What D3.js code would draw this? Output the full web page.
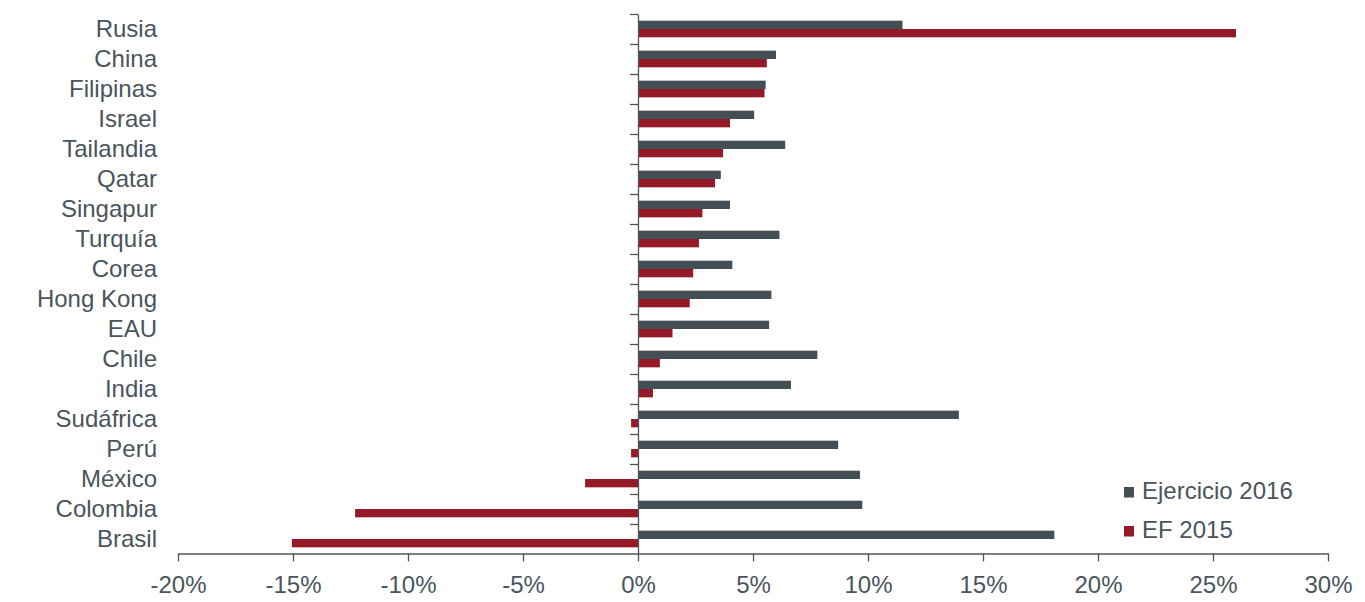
<!DOCTYPE html>
<html lang="es">
  <head>
    <meta charset="UTF-8" />
    <title>Ejercicio 2016 vs EF 2015</title>
    <script src="https://cdnjs.cloudflare.com/ajax/libs/d3/7.8.5/d3.min.js"></script>
    <style>
      body {
        margin: 0;
        background: #fff;
      }
      text {
        font-family: "Liberation Sans", Arial, sans-serif;
        fill: #4a545c;
      }
    </style>
  </head>
  <body>
    <div id="chart"></div>
    <script>
      // Data (percent)
      const countries = [
        "Rusia", "China", "Filipinas", "Israel", "Tailandia", "Qatar",
        "Singapur", "Turquía", "Corea", "Hong Kong", "EAU", "Chile",
        "India", "Sudáfrica", "Perú", "México", "Colombia", "Brasil",
      ];
      const ejercicio2016 = [
        11.5, 6.0, 5.55, 5.05, 6.4, 3.6, 4.0, 6.15, 4.1, 5.8, 5.7, 7.8,
        6.65, 13.95, 8.7, 9.65, 9.75, 18.1,
      ];
      const ef2015 = [
        26.0, 5.6, 5.5, 4.0, 3.7, 3.35, 2.8, 2.65, 2.4, 2.25, 1.5, 0.95,
        0.65, -0.3, -0.3, -2.3, -12.3, -15.05,
      ];
      const seriesNames = ["Ejercicio 2016", "EF 2015"];
      const xTicks = [-20, -15, -10, -5, 0, 5, 10, 15, 20, 25, 30];

      const width = 1365;
      const height = 602;
      const colors = ["#434e55", "#951a28"];
      const axisColor = "#4d565e";

      const rows = countries.map((c, i) => ({
        name: c,
        values: [ejercicio2016[i], ef2015[i]],
      }));

      const svg = d3
        .select("#chart")
        .append("svg")
        .attr("width", width)
        .attr("height", height);

      const x = d3.scaleLinear().domain([-20, 30]).range([178, 1328]);
      const y = d3.scaleBand().domain(countries).range([14, 554]);
      const y1 = d3
        .scaleBand()
        .domain(seriesNames)
        .range([0, y.bandwidth()])
        .paddingInner(0)
        .paddingOuter(0.8);

      // Bars
      const groups = svg
        .selectAll("g.row")
        .data(rows)
        .join("g")
        .attr("class", "row")
        .attr("transform", (d) => `translate(0,${y(d.name)})`);

      groups
        .selectAll("rect")
        .data((d) => d.values.map((v, i) => ({ key: seriesNames[i], v, i })))
        .join("rect")
        .attr("x", (d) => x(Math.min(0, d.v)))
        .attr("width", (d) => Math.abs(x(d.v) - x(0)))
        .attr("y", (d) => y1(d.key))
        .attr("height", y1.bandwidth())
        .attr("fill", (d) => colors[d.i]);

      // Vertical axis at zero with ticks at category boundaries
      const yIdx = d3.scaleLinear().domain([0, countries.length]).range([14, 554]);
      const yAxis = svg
        .append("g")
        .attr("transform", `translate(${x(0)},0)`)
        .call(
          d3
            .axisLeft(yIdx)
            .tickValues(d3.range(0, countries.length))
            .tickSize(8)
            .tickSizeOuter(0)
            .tickFormat("")
        );
      yAxis.selectAll("path, line").attr("stroke", axisColor).attr("stroke-width", 1.3);

      // Category labels
      svg
        .selectAll("text.cat")
        .data(countries)
        .join("text")
        .attr("class", "cat")
        .attr("x", 157)
        .attr("y", (d) => y(d) + y.bandwidth() / 2)
        .attr("dy", "0.35em")
        .attr("text-anchor", "end")
        .attr("font-size", "24px")
        .text((d) => d);

      // Bottom axis
      const xAxis = svg
        .append("g")
        .attr("transform", "translate(0,553.5)")
        .call(
          d3
            .axisBottom(x)
            .tickValues(xTicks)
            .tickSize(8)
            .tickSizeOuter(0)
            .tickPadding(14)
            .tickFormat((d) => d + "%")
        );
      xAxis.selectAll("path, line").attr("stroke", axisColor).attr("stroke-width", 1.3);
      xAxis
        .selectAll("text")
        .attr("font-size", "24px")
        .attr("font-family", "'Liberation Sans', Arial, sans-serif")
        .attr("fill", "#4a545c");

      // Legend
      const legend = svg
        .selectAll("g.legend")
        .data(seriesNames)
        .join("g")
        .attr("class", "legend")
        .attr("transform", (d, i) => `translate(1124,${487 + i * 39})`);
      legend
        .append("rect")
        .attr("width", 10)
        .attr("height", 10.5)
        .attr("fill", (d, i) => colors[i]);
      legend
        .append("text")
        .attr("x", 18)
        .attr("y", 12)
        .attr("font-size", "24px")
        .text((d) => d);
    </script>
  </body>
</html>
